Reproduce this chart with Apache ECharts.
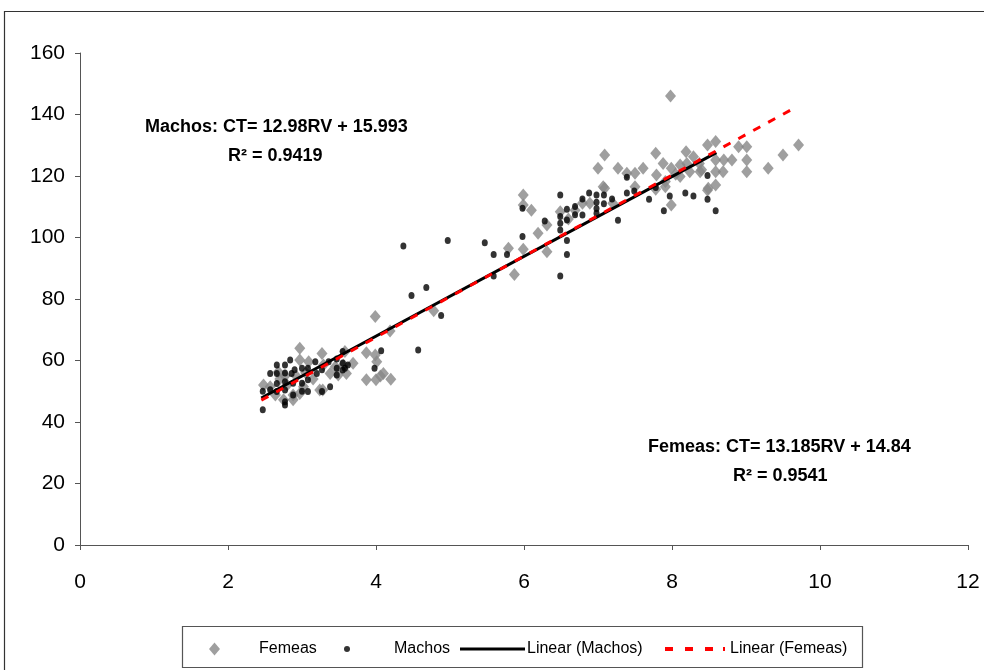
<!DOCTYPE html>
<html>
<head>
<meta charset="utf-8">
<script src="https://cdn.jsdelivr.net/npm/echarts@6/dist/echarts.min.js"></script>
<style>
html,body{margin:0;padding:0;background:#fff;}
#chart{width:984px;height:670px;}
</style>
</head>
<body>
<div id="chart"></div>
<script>
// ---- data ----
var xTicks = [0, 2, 4, 6, 8, 10, 12];
var yTicks = [0, 20, 40, 60, 80, 100, 120, 140, 160];

var femeasX = [2.48,2.57,2.64,2.70,2.75,2.80,2.88,2.88,2.92,2.97,2.97,2.97,3.02,3.05,3.09,3.15,3.24,3.27,3.29,3.28,3.38,3.45,3.49,3.56,3.60,3.58,3.69,3.87,3.99,4.01,3.87,4.00,4.06,4.10,4.20,3.99,4.19,4.78,2.77,2.68,
  5.79,5.87,5.99,5.99,5.99,6.10,6.19,6.31,6.31,6.49,6.60,6.69,6.79,6.89,7.00,7.07,7.09,7.09,7.20,7.27,7.39,7.50,7.50,7.61,7.78,7.79,7.78,7.88,7.91,7.91,7.98,7.99,7.99,8.05,8.11,8.11,8.19,8.20,8.24,8.29,8.37,8.38,8.40,8.48,8.48,8.49,8.59,8.59,8.59,8.59,8.70,8.69,8.81,8.90,9.01,9.01,9.01,9.30,9.50,9.71];
var femeasY = [52.0,51.5,48.8,54.0,47.2,52.0,47.2,48.8,55.0,64.0,60.2,49.3,51.5,56.0,59.6,54.0,50.4,62.3,58.5,50.4,55.8,58.0,55.3,58.5,55.8,62.9,59.1,62.5,61.8,59.6,53.7,53.7,55.0,55.8,53.9,74.3,69.6,76.2,55.0,56.3,
  96.5,88.0,96.2,113.8,110.6,108.9,101.4,104.1,95.4,108.4,106.0,108.9,111.1,111.1,122.5,116.5,116.0,126.8,111.1,122.5,120.9,120.9,116.5,122.5,127.4,120.3,115.7,124.1,118.2,116.5,146.0,122.5,110.6,120.6,123.6,119.8,127.9,124.1,121.4,126.3,124.1,121.4,122.0,130.1,115.4,116.0,131.2,125.2,117.1,121.4,125.2,121.4,125.2,129.5,129.5,125.2,121.4,122.5,126.8,130.1];

var machosX = [2.47,2.47,2.57,2.57,2.66,2.66,2.66,2.66,2.77,2.77,2.77,2.77,2.77,2.77,2.84,2.86,2.88,2.88,2.90,3.00,3.00,3.00,3.08,3.08,3.08,3.18,3.20,3.27,3.27,3.36,3.38,3.47,3.47,3.47,3.55,3.55,3.55,3.58,3.62,
  3.98,4.07,4.37,4.48,4.57,4.68,4.88,4.97,5.47,5.59,5.59,5.77,5.98,5.98,6.28,
  6.49,6.49,6.49,6.49,6.49,6.58,6.58,6.58,6.58,6.69,6.69,6.79,6.79,6.88,6.98,6.98,6.98,6.98,7.08,7.08,7.19,7.27,7.39,7.39,7.49,7.69,7.78,7.89,7.97,8.18,8.29,8.48,8.48,8.59];
var machosY = [44.0,50.0,55.8,50.5,58.5,55.8,52.5,49.9,58.5,55.9,53.1,50.4,46.6,45.5,60.2,55.8,52.6,48.8,57.0,57.5,52.6,50.0,57.5,53.7,49.9,59.6,55.8,49.9,57.0,59.6,51.5,57.5,55.3,60.5,62.9,59.2,56.9,57.5,58.5,
  57.5,63.2,97.2,81.1,63.4,83.7,74.6,99.0,98.3,94.5,87.5,94.5,100.3,109.5,105.4,
  113.8,106.8,104.6,102.4,87.5,109.2,105.7,99.0,94.5,110.1,107.4,112.5,107.3,114.5,113.8,111.5,109.4,107.9,113.8,111.0,112.5,105.6,119.6,114.5,115.1,112.4,116.3,108.7,113.5,114.5,113.5,120.2,112.4,108.7];

// trendline end points (from the fitted equations shown on the chart)
var machosTrendX = [2.45, 8.60];
var machosTrendY = [47.8, 127.6];
var femeasTrendX = [2.45, 9.60];
var femeasTrendY = [47.1, 141.4];

var seriesNames = ['Femeas', 'Machos', 'Linear (Machos)', 'Linear (Femeas)'];
var machosEq = ['Machos: CT= 12.98RV + 15.993', 'R\u00b2 = 0.9419'];
var femeasEq = ['Femeas: CT= 13.185RV + 14.84', 'R\u00b2 = 0.9541'];

function pairs(xs, ys) { return xs.map(function (x, i) { return [x, ys[i]]; }); }

var FONT = 'Liberation Sans';
var chart = echarts.init(document.getElementById('chart'), null, {renderer: 'canvas'});

function oneLegend(name, left, opts) {
  return Object.assign({
    data: [name], left: left, top: 636, orient: 'horizontal',
    textStyle: {fontFamily: FONT, fontSize: 16, color: '#000'},
    selectedMode: false
  }, opts);
}

var option = {
  animation: false,
  backgroundColor: '#fff',
  grid: {left: 80, right: 16, top: 53, bottom: 125, containLabel: false},
  xAxis: {
    type: 'value', min: xTicks[0], max: xTicks[xTicks.length - 1], interval: 2,
    axisLine: {show: true, lineStyle: {color: '#555', width: 1}},
    axisTick: {show: true, length: 5, lineStyle: {color: '#555'}},
    axisLabel: {fontFamily: FONT, fontSize: 21, color: '#000', margin: 27},
    splitLine: {show: false}
  },
  yAxis: {
    type: 'value', min: yTicks[0], max: yTicks[yTicks.length - 1], interval: 20,
    axisLine: {show: true, lineStyle: {color: '#555', width: 1}},
    axisTick: {show: true, length: 5, lineStyle: {color: '#555'}},
    axisLabel: {fontFamily: FONT, fontSize: 21, color: '#000', margin: 15},
    splitLine: {show: false}
  },
  legend: [
    oneLegend(seriesNames[0], 204, {icon: 'diamond', itemWidth: 11, itemHeight: 13,
      textStyle: {fontFamily: FONT, fontSize: 16, color: '#000', padding: [0, 0, 0, 34]}}),
    oneLegend(seriesNames[1], 339, {icon: 'circle', itemWidth: 6, itemHeight: 7,
      textStyle: {fontFamily: FONT, fontSize: 16, color: '#000', padding: [0, 0, 0, 39]}}),
    oneLegend(seriesNames[2], 455, {icon: 'rect', itemWidth: 65, itemHeight: 3,
      textStyle: {fontFamily: FONT, fontSize: 16, color: '#000', padding: [0, 0, 0, -3]}}),
    oneLegend(seriesNames[3], 660, {
      icon: 'path://M0,0h8v4h-8z M20,0h8v4h-8z M40,0h8v4h-8z M58,0h2v4h-2z',
      itemWidth: 60, itemHeight: 4,
      textStyle: {fontFamily: FONT, fontSize: 16, color: '#000', padding: [0, 0, 0, 0]}})
  ],
  series: [
    {
      name: seriesNames[0], type: 'scatter', symbol: 'diamond', symbolSize: [11, 13],
      itemStyle: {color: '#878787'}, data: pairs(femeasX, femeasY), z: 2
    },
    {
      name: seriesNames[1], type: 'scatter', symbol: 'circle', symbolSize: [6, 7],
      itemStyle: {color: '#000'}, data: pairs(machosX, machosY), z: 3
    },
    {
      name: seriesNames[2], type: 'line', symbol: 'none', z: 4,
      lineStyle: {color: '#000', width: 3}, itemStyle: {color: '#000'},
      data: pairs(machosTrendX, machosTrendY)
    },
    {
      name: seriesNames[3], type: 'line', symbol: 'none', z: 5,
      lineStyle: {color: '#ff0000', width: 3, type: [8, 9]}, itemStyle: {color: '#ff0000'},
      data: pairs(femeasTrendX, femeasTrendY)
    }
  ],
  graphic: [
    {type: 'rect', silent: true, shape: {x: 4.5, y: 11.5, width: 1000, height: 700},
      style: {fill: 'none', stroke: '#333', lineWidth: 1.2}},
    {type: 'rect', silent: true, shape: {x: 182.5, y: 626.5, width: 680, height: 41},
      style: {fill: 'none', stroke: '#555', lineWidth: 1.2}},
    {type: 'text', left: 145, top: 118,
      style: {text: machosEq[0], font: 'bold 18px ' + FONT, fill: '#000'}},
    {type: 'text', left: 228, top: 147,
      style: {text: machosEq[1], font: 'bold 18px ' + FONT, fill: '#000'}},
    {type: 'text', left: 648, top: 438,
      style: {text: femeasEq[0], font: 'bold 18px ' + FONT, fill: '#000'}},
    {type: 'text', left: 733, top: 467,
      style: {text: femeasEq[1], font: 'bold 18px ' + FONT, fill: '#000'}}
  ]
};
chart.setOption(option);
</script>
</body>
</html>
